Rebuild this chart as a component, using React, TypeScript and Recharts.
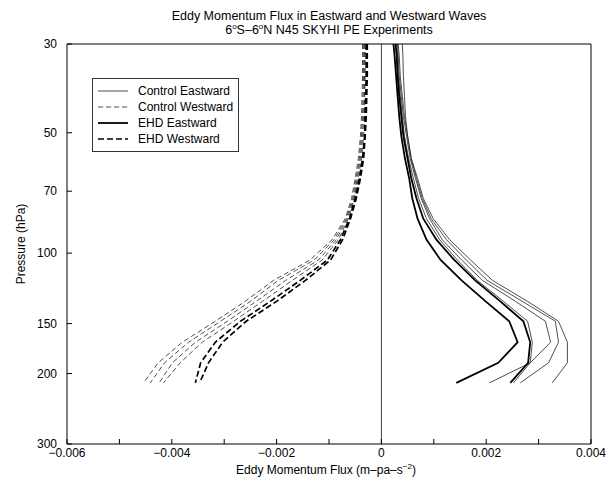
import React from "react";
import {
  LineChart,
  Line,
  XAxis,
  YAxis,
  ReferenceLine,
  Legend,
} from "recharts";

// Eddy momentum flux profiles, 6S-6N, SKYHI N45 PE runs
// pressure on a log axis (30 at the top), flux along x

const FONT = '"Liberation Sans", Arial, Helvetica, sans-serif';

const PRESSURE_LEVELS = [30, 32, 36, 40.5, 45.5, 51, 58, 65, 73, 82, 92.5, 104, 117, 132, 148, 167, 188, 211];

// Control eastward (thin solid)
const CTRL_EAST_1 = [0.00029, 0.00031, 0.00032, 0.00036, 0.0004, 0.00044, 0.00052, 0.00061, 0.00071, 0.00086, 0.00111, 0.00145, 0.00183, 0.00233, 0.00279, 0.00288, 0.00284, 0.00252];
const CTRL_EAST_2 = [0.00031, 0.00032, 0.00034, 0.00038, 0.00042, 0.00048, 0.00055, 0.00065, 0.00076, 0.00092, 0.00116, 0.00153, 0.00193, 0.00256, 0.00313, 0.00323, 0.00284, 0.00206];
const CTRL_EAST_3 = [0.00032, 0.00034, 0.00036, 0.0004, 0.00044, 0.0005, 0.00057, 0.00067, 0.00078, 0.00095, 0.00124, 0.00162, 0.00202, 0.00269, 0.00332, 0.00338, 0.00319, 0.00265];
const CTRL_EAST_4 = [0.0004, 0.00041, 0.00042, 0.00044, 0.00046, 0.0005, 0.00057, 0.00069, 0.0008, 0.00099, 0.0013, 0.0017, 0.00212, 0.00279, 0.00338, 0.00355, 0.00355, 0.00326];

// EHD eastward (thick solid)
const EHD_EAST_1 = [0.00023, 0.00025, 0.00028, 0.00031, 0.00034, 0.00038, 0.00045, 0.00053, 0.00059, 0.00069, 0.00086, 0.00113, 0.00153, 0.00199, 0.00244, 0.0026, 0.00223, 0.00143];
const EHD_EAST_2 = [0.00027, 0.00029, 0.00031, 0.00034, 0.00038, 0.00042, 0.0005, 0.00057, 0.00067, 0.0008, 0.00105, 0.00139, 0.00179, 0.00227, 0.00271, 0.00284, 0.0028, 0.00246];

// Control westward (thin dashed)
const CTRL_WEST_1 = [-0.00036, -0.00036, -0.00036, -0.00037, -0.00038, -0.0004, -0.00044, -0.0005, -0.00057, -0.00069, -0.00094, -0.00136, -0.00206, -0.0026, -0.00317, -0.0038, -0.00426, -0.00454];
const CTRL_WEST_2 = [-0.00034, -0.00034, -0.00034, -0.00035, -0.00036, -0.00038, -0.00042, -0.00048, -0.00055, -0.00067, -0.0009, -0.00128, -0.00197, -0.0025, -0.00307, -0.00368, -0.00414, -0.00441];
const CTRL_WEST_3 = [-0.00032, -0.00032, -0.00032, -0.00033, -0.00034, -0.00036, -0.0004, -0.00046, -0.00053, -0.00065, -0.00086, -0.0012, -0.00183, -0.00239, -0.00294, -0.00355, -0.00399, -0.00424];
const CTRL_WEST_4 = [-0.00031, -0.00031, -0.00031, -0.00032, -0.00032, -0.00034, -0.00038, -0.00044, -0.00052, -0.00063, -0.00082, -0.00113, -0.0017, -0.00227, -0.00282, -0.00342, -0.00384, -0.00416];

// EHD westward (thick dashed)
const EHD_WEST_1 = [-0.00029, -0.00029, -0.00029, -0.0003, -0.00031, -0.00032, -0.00036, -0.00042, -0.0005, -0.00061, -0.00078, -0.00103, -0.00155, -0.00212, -0.00269, -0.00317, -0.00345, -0.00355];
const EHD_WEST_2 = [-0.00027, -0.00027, -0.00027, -0.00028, -0.00029, -0.00031, -0.00034, -0.0004, -0.00048, -0.00059, -0.00074, -0.00097, -0.00145, -0.002, -0.00258, -0.00303, -0.0033, -0.00347];

const X_TICKS = [-0.006, -0.005, -0.004, -0.003, -0.002, -0.001, 0, 0.001, 0.002, 0.003, 0.004];
const X_LABELLED = [-0.006, -0.004, -0.002, 0, 0.002, 0.004];
const Y_TICKS = [30, 50, 70, 100, 150, 200, 300];

const LEGEND_ITEMS = [
  { name: "Control Eastward", kind: "ctrlE" },
  { name: "Control Westward", kind: "ctrlW" },
  { name: "EHD Eastward", kind: "ehdE" },
  { name: "EHD Westward", kind: "ehdW" },
];

const STYLES: Record<string, { stroke: string; width: number; dash?: string }> = {
  ctrlE: { stroke: "#222", width: 0.8 },
  ctrlW: { stroke: "#222", width: 0.8, dash: "5 3" },
  ehdE: { stroke: "#000", width: 1.8 },
  ehdW: { stroke: "#000", width: 1.7, dash: "6 3" },
};

const SERIES = [
  { key: "ce1", values: CTRL_EAST_1, kind: "ctrlE" },
  { key: "ce2", values: CTRL_EAST_2, kind: "ctrlE" },
  { key: "ce3", values: CTRL_EAST_3, kind: "ctrlE" },
  { key: "ce4", values: CTRL_EAST_4, kind: "ctrlE" },
  { key: "cw1", values: CTRL_WEST_1, kind: "ctrlW" },
  { key: "cw2", values: CTRL_WEST_2, kind: "ctrlW" },
  { key: "cw3", values: CTRL_WEST_3, kind: "ctrlW" },
  { key: "cw4", values: CTRL_WEST_4, kind: "ctrlW" },
  { key: "ee1", values: EHD_EAST_1, kind: "ehdE" },
  { key: "ee2", values: EHD_EAST_2, kind: "ehdE" },
  { key: "ew1", values: EHD_WEST_1, kind: "ehdW" },
  { key: "ew2", values: EHD_WEST_2, kind: "ehdW" },
];

const rows = PRESSURE_LEVELS.map((p, i) => {
  const row: Record<string, number> = { p };
  SERIES.forEach((s) => {
    row[s.key] = s.values[i];
  });
  return row;
});

function fmtFlux(v: number) {
  if (Math.abs(v) < 1e-12) return "0";
  return (v < 0 ? "\u2212" : "") + Math.abs(v).toFixed(3);
}

function XTick(props: any) {
  const { x, y, payload } = props;
  const v = payload.value;
  if (!X_LABELLED.some((l) => Math.abs(l - v) < 1e-9)) return <g />;
  return (
    <text x={x} y={y} dy={11} textAnchor="middle" fontSize={12} fill="#000" fontFamily={FONT}>
      {fmtFlux(v)}
    </text>
  );
}

function LegendBox() {
  return (
    <div
      style={{
        border: "1px solid #333",
        background: "#fff",
        width: 147,
        height: 74,
        boxSizing: "border-box",
        paddingTop: 4,
        fontFamily: FONT,
        fontSize: 12,
        color: "#000",
      }}
    >
      {LEGEND_ITEMS.map((it) => {
        const st = STYLES[it.kind];
        return (
          <div key={it.name} style={{ display: "flex", alignItems: "center", height: 16 }}>
            <svg width={40} height={16} style={{ marginLeft: 5 }}>
              <line
                x1={0}
                x2={30}
                y1={8}
                y2={8}
                stroke={st.stroke}
                strokeWidth={st.width}
                strokeDasharray={st.dash}
              />
            </svg>
            <span style={{ lineHeight: "16px" }}>{it.name}</span>
          </div>
        );
      })}
    </div>
  );
}

export default function App() {
  return (
    <div style={{ position: "absolute", left: 0, top: 0, width: 610, height: 486, background: "#fff" }}>
      <LineChart
        width={610}
        height={486}
        layout="vertical"
        data={rows}
        margin={{ top: 43, right: 18, bottom: 0, left: 0 }}
      >
        <XAxis
          type="number"
          domain={[-0.006, 0.004]}
          allowDataOverflow
          ticks={X_TICKS}
          interval={0}
          height={42}
          tickSize={-5}
          tickMargin={7}
          tick={<XTick />}
          stroke="#000"
        />
        <XAxis
          xAxisId="top"
          orientation="top"
          type="number"
          domain={[-0.006, 0.004]}
          allowDataOverflow
          ticks={X_TICKS}
          interval={0}
          height={1}
          tickSize={-5}
          tick={false}
          stroke="#000"
        />
        <YAxis
          type="number"
          dataKey="p"
          scale="log"
          domain={[30, 300]}
          allowDataOverflow
          ticks={Y_TICKS}
          interval={0}
          width={67}
          tickSize={-5}
          tickMargin={15}
          tick={{ fontSize: 12, fill: "#000", fontFamily: FONT }}
          stroke="#000"
        />
        <YAxis
          yAxisId="right"
          orientation="right"
          type="number"
          scale="log"
          domain={[30, 300]}
          allowDataOverflow
          ticks={Y_TICKS}
          interval={0}
          width={1}
          tickSize={-5}
          tick={false}
          stroke="#000"
        />
        <ReferenceLine x={0} stroke="#444" strokeWidth={1} />
        {SERIES.map((s) => {
          const st = STYLES[s.kind];
          return (
            <Line
              key={s.key}
              dataKey={s.key}
              type="linear"
              stroke={st.stroke}
              strokeWidth={st.width}
              strokeDasharray={st.dash}
              dot={false}
              activeDot={false}
              isAnimationActive={false}
            />
          );
        })}
        <Legend
          layout="vertical"
          align="center"
          verticalAlign="middle"
          content={() => <LegendBox />}
          wrapperStyle={{ left: 92, top: 78, width: 147, height: 74 }}
        />
        <text x={329} y={20} textAnchor="middle" fontSize={12.5} fontFamily={FONT} fill="#000">
          Eddy Momentum Flux in Eastward and Westward Waves
        </text>
        <text x={329} y={34} textAnchor="middle" fontSize={12.5} fontFamily={FONT} fill="#000">
          6<tspan fontSize={8} dy={-5}>o</tspan>
          <tspan dy={5}>S–6</tspan>
          <tspan fontSize={8} dy={-5}>o</tspan>
          <tspan dy={5}>N N45 SKYHI PE Experiments</tspan>
        </text>
        <text
          x={25}
          y={244}
          transform="rotate(-90 25 244)"
          textAnchor="middle"
          fontSize={12}
          fontFamily={FONT}
          fill="#000"
        >
          Pressure (hPa)
        </text>
        <text x={326} y={474} textAnchor="middle" fontSize={12} fontFamily={FONT} fill="#000">
          Eddy Momentum Flux (m–pa–s
          <tspan fontSize={8} dy={-5}>−2</tspan>
          <tspan dy={5}>)</tspan>
        </text>
      </LineChart>
    </div>
  );
}
